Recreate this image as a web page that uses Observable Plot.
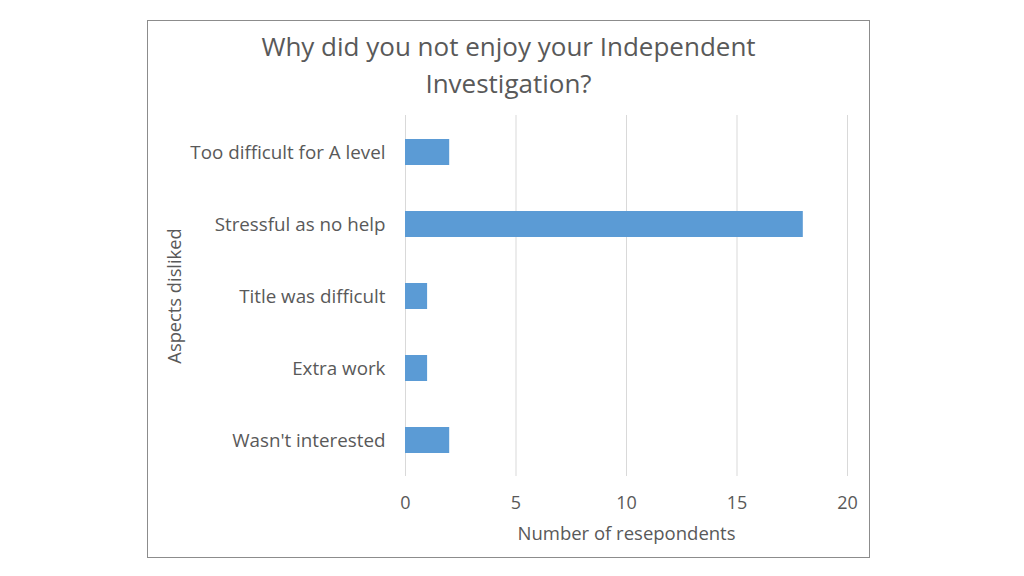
<!DOCTYPE html>
<html><head><meta charset="utf-8">
<script src="https://cdn.jsdelivr.net/npm/d3@7"></script>
<script src="https://cdn.jsdelivr.net/npm/@observablehq/plot@0.6"></script>
<style>
body{margin:0;background:#fff;font-family:"Open Sans",sans-serif;}
#box{position:absolute;left:147px;top:20px;width:721px;height:536px;border:1px solid #8c8c8c;background:#fff;}
#title{position:absolute;left:0;top:7px;width:721px;text-align:center;font-size:26px;line-height:37px;color:#595959;}
#chart{position:absolute;left:0;top:0;}
</style></head><body>
<div id="box"><div id="chart"></div><div id="title">Why did you not enjoy your Independent<br>Investigation?</div></div>
<script>
const categories = ["Too difficult for A level","Stressful as no help","Title was difficult","Extra work","Wasn't interested"];
const values = [2,18,1,1,2];
const xTicks = [0,5,10,15,20];
const titleText = "Why did you not enjoy your Independent Investigation?";
const xLabel = "Number of resepondents";
const yLabel = "Aspects disliked";

const data = categories.map((c,i)=>({category:c,value:values[i]}));
const chart = Plot.plot({
  width:721, height:536,
  marginLeft:257, marginRight:22, marginTop:94, marginBottom:81,
  style:{fontFamily:"'Open Sans',sans-serif", fontSize:"16px", color:"#595959", background:"transparent"},
  x:{domain:[0,20], ticks:xTicks, label:null},
  y:{domain:categories, paddingInner:0.64, paddingOuter:0.32, label:null},
  marks:[
    Plot.ruleX(xTicks,{stroke:"#d9d9d9", strokeWidth:1}),
    Plot.barX(data,{y:"category", x:"value", fill:"#5b9bd5"}),
    Plot.axisX({ticks:xTicks, tickSize:0, tickPadding:20, fontSize:18, fill:"#595959", label:null}),
    Plot.axisY({tickSize:0, tickPadding:20, fontSize:18.8, fill:"#595959", label:null}),
    Plot.text([xLabel],{frameAnchor:"bottom", dy:63, fontSize:18.5, fill:"#595959"}),
    Plot.text([yLabel],{frameAnchor:"left", textAnchor:"middle", dx:-230, rotate:-90, fontSize:18.3, fill:"#595959"})
  ]
});
document.getElementById("chart").appendChild(chart);
</script>
</body></html>
